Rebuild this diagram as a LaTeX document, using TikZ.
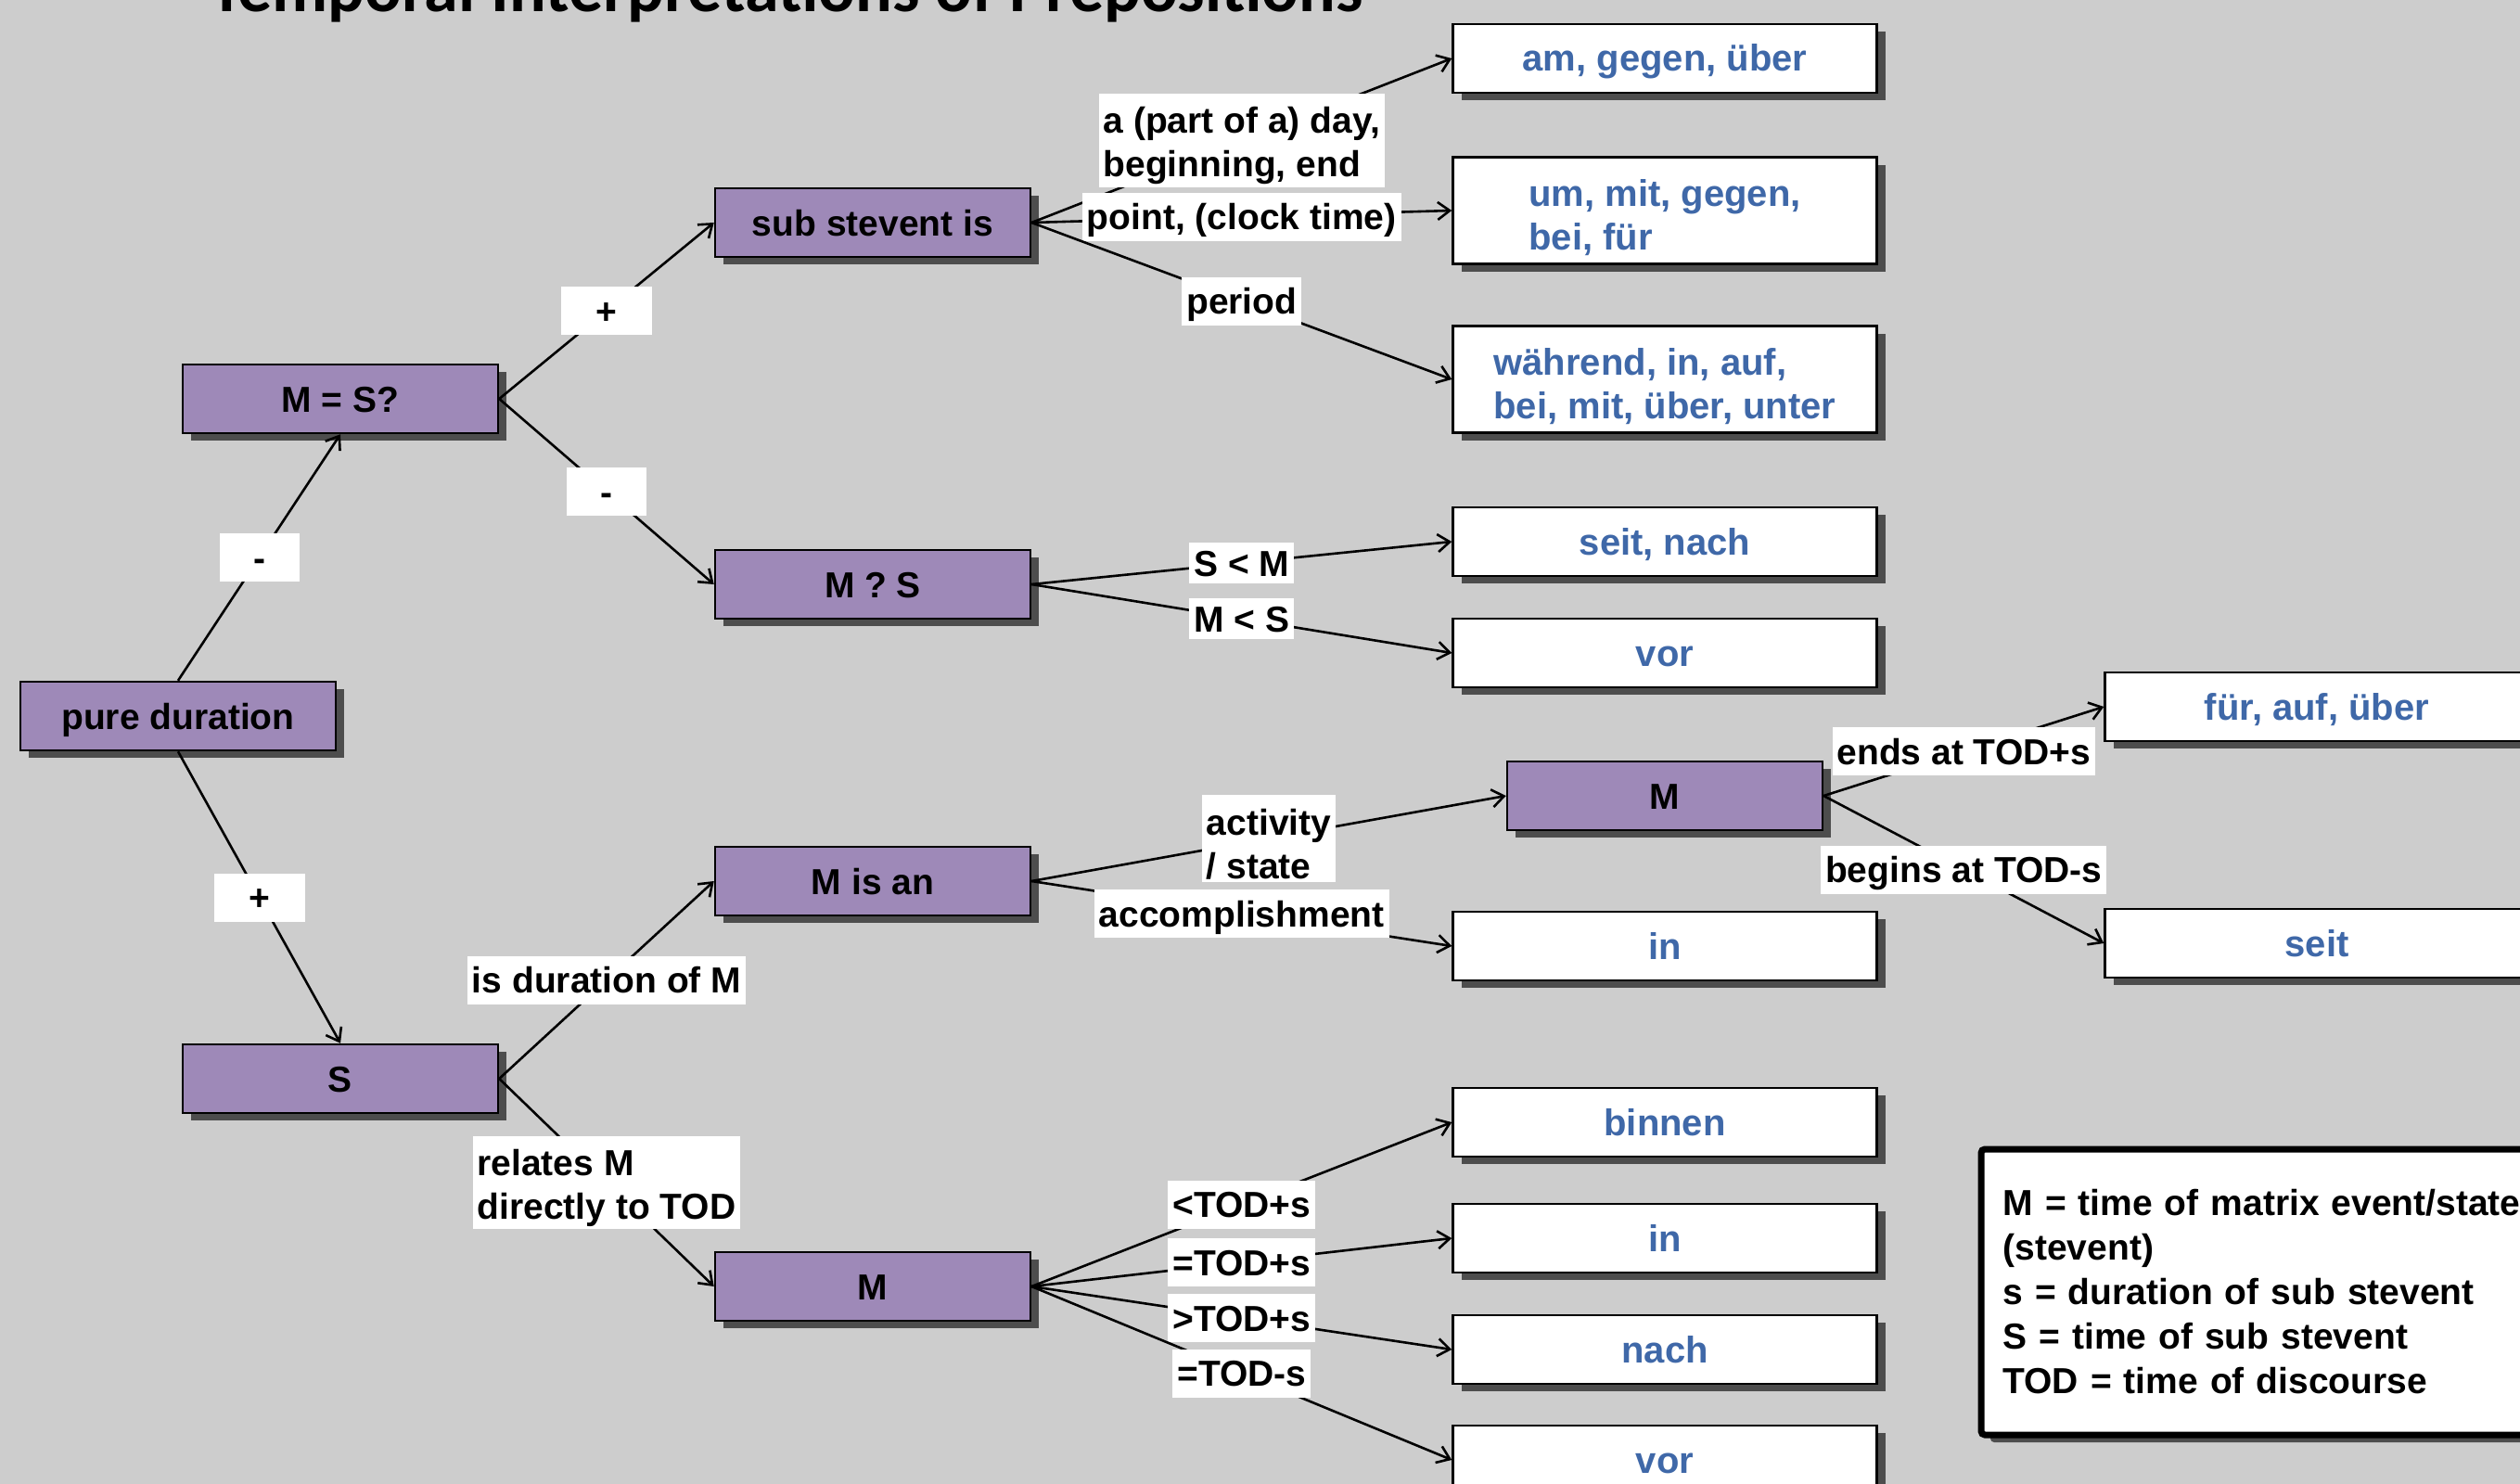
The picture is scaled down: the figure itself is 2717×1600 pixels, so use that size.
\documentclass[tikz,border=0pt]{standalone}
\usepackage{fontspec}
\setmainfont{Liberation Sans}
\newfontfamily\titlefont{Carlito}
\usetikzlibrary{arrows.meta,shadows}
\definecolor{bg}{HTML}{CDCDCD}
\definecolor{purp}{HTML}{9E89B8}
\definecolor{bluetxt}{HTML}{3F68A8}
\definecolor{shad}{HTML}{4D4D4D}
\newcommand{\topstrut}[1]{\rule{0pt}{#1}}
\begin{document}
\begin{tikzpicture}[x=1pt,y=-1pt,
  shd/.style={drop shadow={shadow xshift=9pt,shadow yshift=-8pt,fill=shad,opacity=1}},
  oneline/.style={text height=28pt,text depth=0pt},
  multiline/.style={text height={},text depth={}},
  pbox/.style={draw=black,line width=2.5pt,fill=purp,minimum width=340pt,minimum height=74pt,inner sep=0pt,
    font=\fontsize{39}{47}\selectfont\bfseries,oneline,shd},
  wbox/.style={draw=black,line width=2.5pt,fill=white,minimum width=457pt,minimum height=74pt,inner sep=0pt,
    text=bluetxt,align=left,font=\fontsize{40}{47}\selectfont\bfseries,oneline,shd},
  lbl/.style={fill=white,inner xsep=5pt,inner ysep=4pt,minimum height=52pt,align=left,
    font=\fontsize{39}{47}\selectfont\bfseries,oneline},
  lbltwo/.style={lbl,multiline,inner ysep=2.8pt},
  conn/.style={line width=2.6pt,-{Straight Barb[length=13pt,width=19pt]}},
  legend/.style={draw=black,line width=7pt,fill=white,rounded corners=4pt,text width=600pt,
    inner xsep=23.5pt,minimum height=308pt,align=left,font=\fontsize{39}{48}\selectfont\bfseries,
    drop shadow={shadow xshift=10pt,shadow yshift=-8pt,fill=shad,opacity=1}}
]
\fill[bg] (0,0) rectangle (2717,1600);
\useasboundingbox (0,0) rectangle (2717,1600);

\node[font=\titlefont\fontsize{74}{80}\selectfont\bfseries,anchor=base] (title) at (848,13)
  {Temporal Interpretations of Prepositions};

% purple decision boxes
\node[pbox] (pd)    at (192,772)  {pure duration};
\node[pbox] (mss)   at (367,430)  {M = S?};
\node[pbox] (S)     at (367,1163) {S};
\node[pbox] (sub)   at (941,240)  {sub stevent is};
\node[pbox] (mqs)   at (941,630)  {M ? S};
\node[pbox] (misan) at (941,950)  {M is an};
\node[pbox] (mb)    at (941,1387) {M};
\node[pbox] (mr)    at (1795,858) {M};

% white result boxes
\node[wbox] (am)       at (1795,63)   {am, gegen, über};
\node[wbox,multiline,minimum height=115pt] (um)   at (1795,227) {\topstrut{45pt}um, mit, gegen,\\bei, für};
\node[wbox,multiline,minimum height=115pt] (wahr) at (1795,409) {\topstrut{45pt}während, in, auf,\\bei, mit, über, unter};
\node[wbox] (seitnach) at (1795,584)  {seit, nach};
\node[wbox] (vora)     at (1795,704)  {vor};
\node[wbox] (ina)      at (1795,1020) {in};
\node[wbox] (binnen)   at (1795,1210) {binnen};
\node[wbox] (inb)      at (1795,1335) {in};
\node[wbox] (nach)     at (1795,1455) {nach};
\node[wbox] (vorb)     at (1795,1574) {vor};
\node[wbox] (fur)      at (2498,762)  {für, auf, über};
\node[wbox] (seit)     at (2498,1017) {seit};

% connectors
\draw[conn] (pd.north) -- node[lbl,minimum width=86pt] (l1) {-} (mss.south);
\draw[conn] (pd.south) -- node[lbl,minimum width=98pt] (l2) {+} (S.north);
\draw[conn] (mss.east) -- node[lbl,minimum width=98pt] (l3) {+} (sub.west);
\draw[conn] (mss.east) -- node[lbl,minimum width=86pt] (l4) {-} (mqs.west);
\draw[conn] (S.east) -- node[lbl] (l5) {is duration of M} (misan.west);
\draw[conn] (S.east) -- node[lbltwo] (l6) {\topstrut{40pt}relates M\\directly to TOD} (mb.west);
\draw[conn] (sub.east) -- node[lbltwo] (l7) {\topstrut{40pt}a (part of a) day,\\beginning, end} (am.west);
\draw[conn] (sub.east) -- node[lbl] (l8) {point, (clock time)} (um.west);
\draw[conn] (sub.east) -- node[lbl] (l9) {period} (wahr.west);
\draw[conn] (mqs.east) -- node[lbl,minimum height=44pt,inner ysep=2pt] (l10) {S < M} (seitnach.west);
\draw[conn] (mqs.east) -- node[lbl,minimum height=44pt,inner ysep=2pt] (l11) {M < S} (vora.west);
\draw[conn] (misan.east) -- node[lbltwo] (l12) {\topstrut{40pt}activity\\/ state} (mr.west);
\draw[conn] (misan.east) -- node[lbl] (l13) {accomplishment} (ina.west);
\draw[conn] (mr.east) -- node[lbl] (l14) {ends at TOD+s} (fur.west);
\draw[conn] (mr.east) -- node[lbl] (l15) {begins at TOD-s} (seit.west);
\draw[conn] (mb.east) -- node[lbl] (l16) {<TOD+s} (binnen.west);
\draw[conn] (mb.east) -- node[lbl] (l17) {=TOD+s} (inb.west);
\draw[conn] (mb.east) -- node[lbl] (l18) {>TOD+s} (nach.west);
\draw[conn] (mb.east) -- node[lbl] (l19) {=TOD-s} (vorb.west);

% legend
\node[legend,anchor=north west] (leg) at (2132.5,1235.5)
  {M = time of matrix event/state\\(stevent)\\s = duration of sub stevent\\S = time of sub stevent\\TOD = time of discourse};
\end{tikzpicture}
\end{document}
